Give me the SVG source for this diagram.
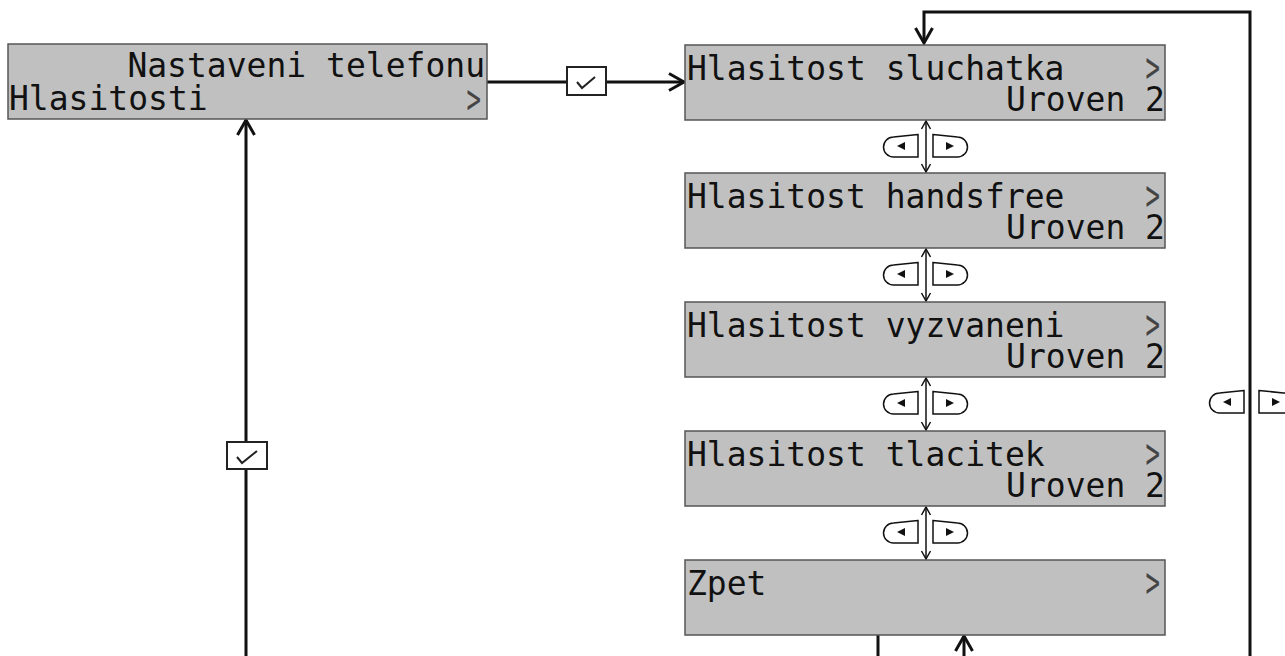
<svg xmlns="http://www.w3.org/2000/svg" xmlns:xlink="http://www.w3.org/1999/xlink" width="1285" height="656" viewBox="0 0 1285 656">
<style>
.box{fill:#c0c0c0;stroke:#555;stroke-width:1.5}
.t{font-family:"DejaVu Sans Mono","Liberation Mono",monospace;font-size:33px;fill:#111}
.gt{font-family:"DejaVu Sans Mono","Liberation Mono",monospace;font-size:30px;fill:#444}
.ln{fill:none;stroke:#111;stroke-width:3}
.thin{fill:none;stroke:#111;stroke-width:1.5}
.cb{fill:#fff;stroke:#222;stroke-width:2}
.ck{fill:none;stroke:#222;stroke-width:2}
.btn{fill:#fff;stroke:#111;stroke-width:1.5}
</style>
<defs>
<marker id="ah" viewBox="-20 -12 24 24" refX="0" refY="0" markerWidth="24" markerHeight="24" markerUnits="userSpaceOnUse" orient="auto">
<path d="M-15,-8.5 L0,0 L-15,8.5" fill="none" stroke="#111" stroke-width="3"/>
</marker>
<marker id="sh" viewBox="-12 -8 16 16" refX="0" refY="0" markerWidth="16" markerHeight="16" markerUnits="userSpaceOnUse" orient="auto-start-reverse">
<path d="M-8,-4.5 L0,0 L-8,4.5" fill="none" stroke="#111" stroke-width="1.5"/>
</marker>
<g id="btns">
<path class="btn" d="M918,134.5 L893.5,137 A10,10 0 0 0 893.5,157 L918,157 Z"/>
<polygon points="897,146 905,142 905,150" fill="#111"/>
<path class="btn" d="M933,134.5 L957.5,137 A10,10 0 0 1 957.5,157 L933,157 Z"/>
<polygon points="954,146 946,142 946,150" fill="#111"/>
</g>
</defs>
<rect width="1285" height="656" fill="#fff"/>

<g id="connectors">
<line class="ln" x1="487" y1="82" x2="684" y2="82" marker-end="url(#ah)"/>
<line class="ln" x1="246" y1="660" x2="246" y2="120" marker-end="url(#ah)"/>
<polyline class="ln" points="1250,660 1250,12 924,12 924,43" marker-end="url(#ah)"/>
<line class="ln" x1="878" y1="635" x2="878" y2="660"/>
<line class="ln" x1="964" y1="660" x2="964" y2="636" marker-end="url(#ah)"/>
<line class="thin" x1="926" y1="121" x2="926" y2="172" marker-start="url(#sh)" marker-end="url(#sh)"/>
<line class="thin" x1="926" y1="249" x2="926" y2="301" marker-start="url(#sh)" marker-end="url(#sh)"/>
<line class="thin" x1="926" y1="378" x2="926" y2="430" marker-start="url(#sh)" marker-end="url(#sh)"/>
<line class="thin" x1="926" y1="507" x2="926" y2="559" marker-start="url(#sh)" marker-end="url(#sh)"/>
<g id="ok1"><rect class="cb" x="567" y="67" width="39" height="28"/><path class="ck" d="M577,82 L582,88 L595,77"/></g>
<g id="ok2"><rect class="cb" x="227" y="442" width="40" height="27"/><path class="ck" d="M237,457 L242,463 L257,451"/></g>
<use xlink:href="#btns"/>
<use xlink:href="#btns" transform="translate(0,128)"/>
<use xlink:href="#btns" transform="translate(0,257)"/>
<use xlink:href="#btns" transform="translate(0,386)"/>
<use xlink:href="#btns" transform="translate(326,256)"/>
</g>

<g id="n0">
<rect class="box" x="8" y="44" width="479" height="75"/>
<text class="t" x="485" y="77" text-anchor="end">Nastaveni telefonu</text>
<text class="t" x="9" y="110">Hlasitosti</text>
<text class="gt" transform="translate(481,113) scale(0.8,1.35)" text-anchor="end">&gt;</text>
</g>

<g id="n1">
<rect class="box" x="685" y="45" width="480" height="75"/>
<text class="t" x="687" y="80">Hlasitost sluchatka</text>
<text class="t" x="1165" y="111" text-anchor="end">Uroven 2</text>
<text class="gt" transform="translate(1160,82) scale(0.8,1.4)" text-anchor="end">&gt;</text>
</g>

<g id="n2">
<rect class="box" x="685" y="173" width="480" height="75"/>
<text class="t" x="687" y="208">Hlasitost handsfree</text>
<text class="t" x="1165" y="239" text-anchor="end">Uroven 2</text>
<text class="gt" transform="translate(1160,210) scale(0.8,1.4)" text-anchor="end">&gt;</text>
</g>

<g id="n3">
<rect class="box" x="685" y="302" width="480" height="75"/>
<text class="t" x="687" y="337">Hlasitost vyzvaneni</text>
<text class="t" x="1165" y="368" text-anchor="end">Uroven 2</text>
<text class="gt" transform="translate(1160,339) scale(0.8,1.4)" text-anchor="end">&gt;</text>
</g>

<g id="n4">
<rect class="box" x="685" y="431" width="480" height="75"/>
<text class="t" x="687" y="466">Hlasitost tlacitek</text>
<text class="t" x="1165" y="497" text-anchor="end">Uroven 2</text>
<text class="gt" transform="translate(1160,468) scale(0.8,1.4)" text-anchor="end">&gt;</text>
</g>

<g id="n5">
<rect class="box" x="685" y="560" width="480" height="75"/>
<text class="t" x="687" y="595">Zpet</text>
<text class="gt" transform="translate(1160,597) scale(0.8,1.4)" text-anchor="end">&gt;</text>
</g>
</svg>
